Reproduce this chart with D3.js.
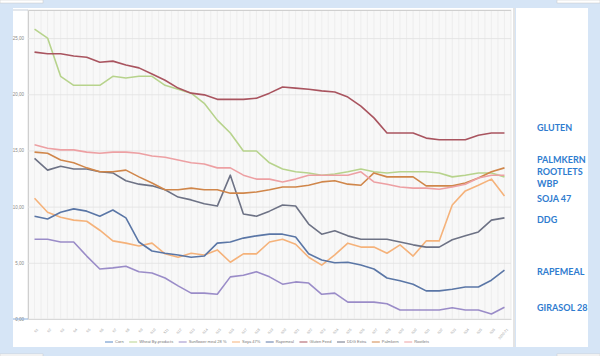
<!DOCTYPE html>
<html>
<head>
<meta charset="utf-8">
<script src="https://cdn.jsdelivr.net/npm/d3@7"></script>
<style>
  html, body { margin: 0; padding: 0; background: #d6e5f6; }
  svg { display: block; }
</style>
</head>
<body>
<div id="container"></div>
<script>
// categories (weeks)
const weeks = d3.range(1, 37).map(d => 'S' + d).concat(['2020-21']);
const yTicks = [0, 5, 10, 15, 20, 25];

const corn = [];
const wheatByproducts = [25.8, 25.0, 21.6, 20.8, 20.8, 20.8, 21.6, 21.45, 21.6, 21.6, 20.8, 20.45, 20.1, 19.2, 17.7, 16.55, 14.95, 14.95, 13.9, 13.35, 13.1, 13.0, 12.8, 12.9, 13.1, 13.35, 13.1, 13.0, 13.1, 13.1, 13.1, 13.0, 12.65, 12.8, 13.0, 13.0, 12.65];
const sunflower28 = [7.1, 7.1, 6.85, 6.85, 5.6, 4.45, 4.55, 4.7, 4.2, 4.1, 3.65, 2.95, 2.3, 2.3, 2.2, 3.75, 3.9, 4.2, 3.75, 3.1, 3.3, 3.2, 2.2, 2.3, 1.5, 1.5, 1.5, 1.35, 0.8, 0.8, 0.8, 0.8, 1.0, 0.8, 0.8, 0.45, 1.05];
const soya47 = [10.75, 9.5, 9.05, 8.8, 8.7, 7.9, 6.95, 6.75, 6.5, 6.75, 5.8, 5.5, 5.85, 5.7, 6.15, 5.05, 5.8, 5.8, 6.85, 7.1, 6.65, 5.5, 4.8, 5.7, 6.75, 6.4, 6.4, 5.85, 6.6, 5.6, 6.95, 6.95, 10.15, 11.4, 11.9, 12.45, 10.95];
const rapemeal = [9.15, 8.9, 9.5, 9.8, 9.6, 9.15, 9.7, 9.0, 6.85, 6.05, 5.85, 5.7, 5.5, 5.6, 6.75, 6.85, 7.2, 7.4, 7.55, 7.55, 7.3, 5.8, 5.25, 5.0, 5.05, 4.8, 4.45, 3.65, 3.4, 3.1, 2.5, 2.5, 2.65, 2.85, 2.85, 3.45, 4.35];
const glutenFeed = [23.75, 23.6, 23.6, 23.4, 23.3, 22.85, 22.95, 22.6, 22.35, 21.8, 21.25, 20.55, 20.1, 19.95, 19.55, 19.55, 19.55, 19.65, 20.1, 20.65, 20.55, 20.45, 20.3, 20.2, 19.75, 18.95, 17.9, 16.55, 16.55, 16.55, 16.1, 15.95, 15.95, 15.95, 16.35, 16.55, 16.55];
const ddgExtra = [14.3, 13.25, 13.6, 13.35, 13.35, 13.1, 13.0, 12.3, 12.0, 11.85, 11.5, 10.85, 10.6, 10.25, 10.05, 12.8, 9.35, 9.15, 9.6, 10.15, 10.05, 8.45, 7.55, 7.85, 7.4, 7.1, 7.1, 7.1, 6.85, 6.6, 6.4, 6.4, 7.05, 7.4, 7.75, 8.8, 9.0];
const palmkern = [14.85, 14.75, 14.15, 13.9, 13.45, 13.1, 13.1, 13.25, 12.65, 12.1, 11.5, 11.5, 11.65, 11.5, 11.5, 11.2, 11.2, 11.3, 11.5, 11.75, 11.75, 11.9, 12.2, 12.3, 12.0, 11.9, 13.0, 12.65, 12.65, 12.65, 11.85, 11.85, 11.85, 12.1, 12.55, 13.1, 13.45];
const rootlets = [15.5, 15.2, 15.05, 15.05, 14.85, 14.75, 14.85, 14.85, 14.75, 14.5, 14.4, 14.15, 13.9, 13.8, 13.45, 13.45, 12.8, 12.45, 12.45, 12.2, 12.45, 12.8, 12.8, 12.8, 12.8, 13.1, 12.2, 12.0, 11.75, 11.65, 11.65, 11.55, 11.75, 12.0, 12.55, 12.8, 12.8];

const seriesNames = ['Corn', 'Wheat By-products', 'Sunflower meal 28 %', 'Soya 47%', 'Rapemeal', 'Gluten Feed', 'DDG Extra', 'Palmkern', 'Rootlets'];
const seriesValues = [corn, wheatByproducts, sunflower28, soya47, rapemeal, glutenFeed, ddgExtra, palmkern, rootlets];
const seriesColors = ['#5b8ac6', '#b7d38c', '#9a8cc8', '#f5b27a', '#5a76a6', '#a9545f', '#6d7285', '#d0864a', '#eda0a3'];

const sideLabels = ['GLUTEN', 'PALMKERN', 'ROOTLETS', 'WBP', 'SOJA 47', 'DDG', 'RAPEMEAL', 'GIRASOL 28'];
const sideLabelY = [128, 160, 172, 184, 199, 220, 272, 308];

const W = 600, H = 356;
const plot = { left: 28, right: 511, top: 10, bottom: 319 };

const svg = d3.select('#container')
  .append('svg')
  .attr('width', W)
  .attr('height', H);

// page frame pieces
svg.append('rect').attr('x', 0).attr('y', 0).attr('width', W).attr('height', H).attr('fill', '#d6e5f6');
[[0, 0, 43, 3], [557, 0, 43, 3], [0, 354, 43, 2], [557, 354, 43, 2]].forEach(r => {
  svg.append('rect').attr('x', r[0]).attr('y', r[1]).attr('width', r[2]).attr('height', r[3])
    .attr('fill', '#fff').attr('stroke', '#c8c8c8').attr('stroke-width', 0.5);
});

// chart panel + right text panel
svg.append('rect').attr('x', 13).attr('y', 8).attr('width', 500).attr('height', 339).attr('fill', '#fff');
svg.append('rect').attr('x', 513).attr('y', 8).attr('width', 2).attr('height', 339).attr('fill', '#e4e4e4');
svg.append('rect').attr('x', 516).attr('y', 8).attr('width', 72).attr('height', 339).attr('fill', '#fff');

// Scales
const x = d3.scaleBand().domain(weeks).range([plot.left, plot.right]);
const xc = d => x(d) + x.bandwidth() / 2;
const y = d3.scaleLinear().domain([0, 27.5]).range([plot.bottom, plot.top]);

// plot area background
svg.append('rect')
  .attr('x', plot.left).attr('y', plot.top)
  .attr('width', plot.right - plot.left).attr('height', plot.bottom - plot.top)
  .attr('fill', '#f8f8f8').attr('stroke', '#e6e6e6').attr('stroke-width', 0.8);

// dense vertical gridlines
const vg = svg.append('g');
weeks.forEach(w => {
  [x(w), xc(w)].forEach(px => {
    vg.append('line').attr('x1', px).attr('x2', px).attr('y1', plot.top).attr('y2', plot.bottom)
      .attr('stroke', '#ebebeb').attr('stroke-width', 0.8);
  });
});

// y axis with gridlines
const yAxis = d3.axisLeft(y).tickValues(yTicks)
  .tickSize(-(plot.right - plot.left))
  .tickFormat(d => d3.format('.2f')(d).replace('.', ','));
const gy = svg.append('g').attr('transform', `translate(${plot.left},0)`).call(yAxis);
gy.select('.domain').attr('stroke', '#cfcfcf');
gy.selectAll('.tick line').attr('stroke', '#e2e2e2').attr('stroke-width', 0.8);
gy.selectAll('.tick text').attr('x', -4).attr('fill', '#8a8a8a')
  .style('font-family', 'Liberation Sans, sans-serif').style('font-size', '4.5px');

// selection marks near axis corner
svg.append('line').attr('x1', 13).attr('x2', plot.left).attr('y1', plot.bottom).attr('y2', plot.bottom)
  .attr('stroke', '#6d9bd2').attr('stroke-width', 0.8);
svg.append('line').attr('x1', 13).attr('x2', plot.left).attr('y1', plot.top).attr('y2', plot.top)
  .attr('stroke', '#b9c3cf').attr('stroke-width', 0.8);

// x axis labels
const xAxis = d3.axisBottom(x).tickSize(0).tickPadding(0);
const gx = svg.append('g').attr('transform', `translate(0,${plot.bottom})`).call(xAxis);
gx.select('.domain').attr('stroke', '#d8d8d8');
gx.selectAll('.tick text')
  .attr('fill', '#a0a0a0')
  .style('font-family', 'Liberation Sans, sans-serif').style('font-size', '3.6px')
  .attr('text-anchor', 'end')
  .attr('transform', 'translate(2,9) rotate(-50)');

// lines
const line = d3.line()
  .x((d, i) => xc(weeks[i]))
  .y(d => y(d));

seriesValues.forEach((vals, k) => {
  if (!vals.length) return;
  svg.append('path')
    .datum(vals)
    .attr('fill', 'none')
    .attr('stroke', seriesColors[k])
    .attr('stroke-width', 1.6)
    .attr('stroke-linejoin', 'round')
    .attr('d', line);
});

// legend
const legend = svg.append('g').attr('transform', 'translate(105,342)');
let lx = 0;
seriesNames.forEach((name, k) => {
  const g = legend.append('g').attr('transform', `translate(${lx},0)`);
  g.append('line').attr('x1', 0).attr('x2', 8).attr('y1', 0).attr('y2', 0)
    .attr('stroke', seriesColors[k]).attr('stroke-width', 1);
  const t = g.append('text').attr('x', 10).attr('y', 1.4)
    .attr('fill', '#777')
    .style('font-family', 'Liberation Sans, sans-serif').style('font-size', '4px')
    .text(name);
  lx += 10 + t.node().getComputedTextLength() + 5.5;
});

// right side labels
svg.append('g').selectAll('text')
  .data(sideLabels)
  .enter()
  .append('text')
  .attr('x', 537)
  .attr('y', (d, i) => sideLabelY[i] + 3.3)
  .attr('fill', '#2f7ccf')
  .style('font-family', 'Lato, sans-serif')
  .style('font-weight', 'bold')
  .style('font-size', '9px')
  .text(d => d);
</script>
</body>
</html>
